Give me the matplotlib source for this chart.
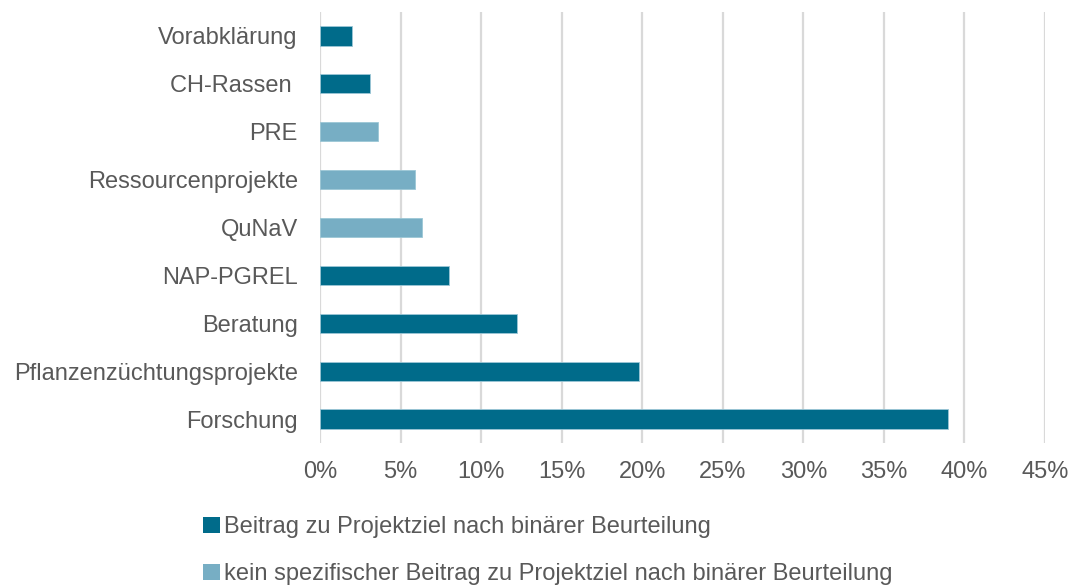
import matplotlib.pyplot as plt
from matplotlib.patches import Patch
from matplotlib.ticker import FuncFormatter

plt.rcParams['font.family'] = ['Liberation Sans', 'DejaVu Sans']

categories = ["Vorabklärung", "CH-Rassen ", "PRE", "Ressourcenprojekte", "QuNaV",
              "NAP-PGREL", "Beratung", "Pflanzenzüchtungsprojekte", "Forschung"]
values = [2.0, 3.1, 3.6, 5.9, 6.3, 8.0, 12.2, 19.8, 39.0]
contributes = [True, True, False, False, False, True, True, True, True]

series_labels = ["Beitrag zu Projektziel nach binärer Beurteilung",
                 "kein spezifischer Beitrag zu Projektziel nach binärer Beurteilung"]
dark = "#006B8A"
light = "#77AEC4"
text_color = "#595959"

fig = plt.figure(figsize=(10.73, 5.86), dpi=100)
ax = fig.add_axes([320 / 1073, 1 - 443 / 586, (1045 - 320) / 1073, (443 - 12) / 586])

ypos = list(range(len(categories)))
colors = [dark if c else light for c in contributes]
ax.barh(ypos, values, height=0.4, color=colors, edgecolor="#9CC7D6", linewidth=0.6, zorder=3)

ax.set_yticks(ypos)
ax.set_yticklabels(categories)
ax.set_ylim(len(categories) - 0.5, -0.5)
ax.set_xlim(0, 45)
ax.set_xticks(range(0, 46, 5))
ax.xaxis.set_major_formatter(FuncFormatter(lambda v, p: f"{int(v)}%"))

ax.grid(axis="x", color="#D9D9D9", linewidth=1.6, zorder=0)
for s in ax.spines.values():
    s.set_visible(False)
ax.tick_params(axis="both", length=0, labelsize=17, colors=text_color)
ax.tick_params(axis="y", pad=16)
ax.tick_params(axis="x", pad=13)

handles = [Patch(facecolor=dark), Patch(facecolor=light)]
fig.legend(handles, series_labels, loc="upper left", bbox_to_anchor=(194 / 1073, 1 - 507 / 586),
           frameon=False, fontsize=17, labelcolor=text_color, handlelength=0.7, handleheight=0.7,
           handletextpad=0.15, labelspacing=1.05, borderaxespad=0)

fig.savefig("out.png", dpi=100)
